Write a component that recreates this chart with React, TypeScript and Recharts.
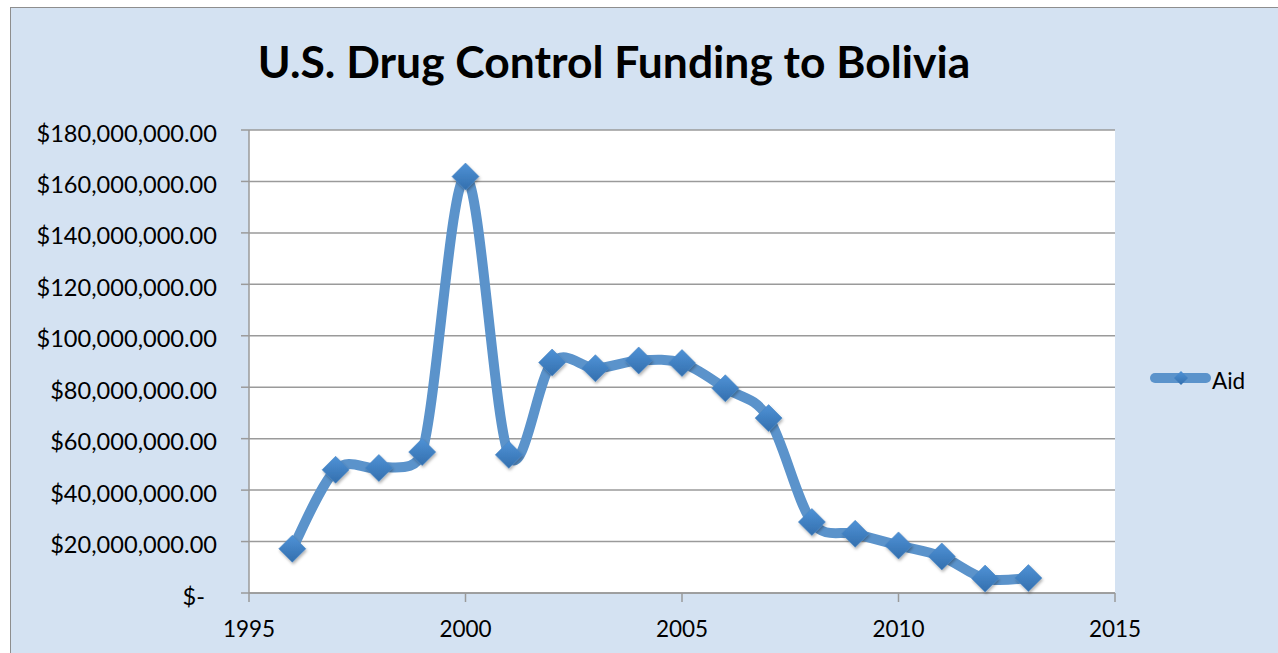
import React from 'react';
import { LineChart, Line, XAxis, YAxis, CartesianGrid, Legend } from 'recharts';

// Annual U.S. drug control funding to Bolivia (USD)
const years = [1996, 1997, 1998, 1999, 2000, 2001, 2002, 2003, 2004, 2005, 2006, 2007, 2008, 2009, 2010, 2011, 2012, 2013];
const aid = [
  17200000, 47900000, 48600000, 54800000, 161900000, 53700000, 89600000, 87400000, 90400000,
  89400000, 79600000, 68000000, 27600000, 23000000, 18500000, 14200000, 5600000, 5800000,
];
const yTicks = [0, 20000000, 40000000, 60000000, 80000000, 100000000, 120000000, 140000000, 160000000, 180000000];
const xTicks = [1995, 2000, 2005, 2010, 2015];
const seriesName = 'Aid';
const title = 'U.S. Drug Control Funding to Bolivia';

const data = years.map((year, i) => ({ year, aid: aid[i] }));

const FONT = 'Lato, "Open Sans", sans-serif';
const LINE_COLOR = '#5b93cb';
const GRID_COLOR = '#9a9a9a';

// Spreadsheet-style smoothed line: Bezier segments whose control arms are
// 1/6 of the neighbour chord, capped at half of the segment length.
const smoothCurve = (context: any) => {
  let pts: [number, number][] = [];
  const dist = (a: [number, number], b: [number, number]) => Math.hypot(a[0] - b[0], a[1] - b[1]);
  return {
    areaStart() {},
    areaEnd() {},
    lineStart() { pts = []; },
    point(x: number, y: number) { pts.push([+x, +y]); },
    lineEnd() {
      const n = pts.length;
      if (!n) return;
      context.moveTo(pts[0][0], pts[0][1]);
      for (let i = 0; i < n - 1; i++) {
        const p0 = pts[Math.max(i - 1, 0)];
        const p1 = pts[i];
        const p2 = pts[i + 1];
        const p3 = pts[Math.min(i + 2, n - 1)];
        const d12 = dist(p1, p2);
        const d02 = dist(p0, p2);
        const d13 = dist(p1, p3);
        let f1 = 1 / 6;
        let f2 = 1 / 6;
        if (d02 > 0 && d02 / 6 >= d12 / 2) f1 = d12 / d02 / 2;
        if (d13 > 0 && d13 / 6 >= d12 / 2) f2 = d12 / d13 / 2;
        context.bezierCurveTo(
          p1[0] + f1 * (p2[0] - p0[0]),
          p1[1] + f1 * (p2[1] - p0[1]),
          p2[0] - f2 * (p3[0] - p1[0]),
          p2[1] - f2 * (p3[1] - p1[1]),
          p2[0],
          p2[1],
        );
      }
    },
  };
};

const formatMoney = (v: number) =>
  v === 0 ? '$-' : '$' + v.toLocaleString('en-US', { minimumFractionDigits: 2, maximumFractionDigits: 2 });

const YTick = (props: any) => {
  const { x, y, payload } = props;
  const v = payload.value as number;
  return (
    <text x={v === 0 ? x - 12 : x} y={y + 11.5} textAnchor="end" fontFamily={FONT} fontSize={23.6} fill="#000">
      {formatMoney(v)}
    </text>
  );
};

const XTick = (props: any) => {
  const { x, y, payload } = props;
  return (
    <text x={x} y={y + 35} textAnchor="middle" fontFamily={FONT} fontSize={22.5} fill="#000">
      {payload.value}
    </text>
  );
};

const Diamond = (props: any) => {
  const { cx, cy, index } = props;
  if (cx == null || cy == null) return null;
  const r = 13.5;
  return (
    <polygon
      key={`mark-${index}`}
      points={`${cx},${cy - r} ${cx + r},${cy} ${cx},${cy + r} ${cx - r},${cy}`}
      fill="url(#diamondFill)"
      stroke="#4a86c4"
      strokeWidth={0.6}
      filter="url(#markShadow)"
    />
  );
};

const LegendContent = () => (
  <svg width={120} height={32} style={{ overflow: 'visible' }}>
    <line x1={9} y1={15} x2={60} y2={15} stroke={LINE_COLOR} strokeWidth={10} strokeLinecap="round" />
    <polygon points="35,8 42,15 35,22 28,15" fill="url(#diamondFill)" />
    <text x={66} y={26} fontFamily={FONT} fontSize={22.5} fill="#000">{seriesName}</text>
  </svg>
);

export default function App() {
  return (
    <div
      style={{
        position: 'absolute',
        left: 10,
        top: 7,
        width: 1268,
        height: 646,
        boxSizing: 'border-box',
        borderLeft: '1px solid #8e8e8e',
        borderTop: '1px solid #8e8e8e',
        background: '#d4e2f2',
        overflow: 'hidden',
      }}
    >
      <svg width={1267} height={110} style={{ position: 'absolute', left: 0, top: 0 }}>
        <text x={603} y={70} textAnchor="middle" fontFamily={FONT} fontWeight={700} fontSize={44.4} fill="#000">
          {title}
        </text>
      </svg>
      <LineChart width={1267} height={645} data={data} margin={{ top: 122, right: 163, bottom: 0, left: 0 }}>
        <defs>
          <linearGradient id="diamondFill" x1="0" y1="0" x2="0" y2="1">
            <stop offset="0%" stopColor="#4f92d6" />
            <stop offset="100%" stopColor="#336fae" />
          </linearGradient>
          <filter id="markShadow" x="-50%" y="-50%" width="200%" height="200%">
            <feDropShadow dx="1" dy="2" stdDeviation="1.5" floodColor="#000" floodOpacity="0.3" />
          </filter>
        </defs>
        <CartesianGrid vertical={false} stroke={GRID_COLOR} strokeWidth={1.5} fill="#ffffff" />
        <XAxis
          dataKey="year"
          type="number"
          domain={[1995, 2015]}
          ticks={xTicks}
          height={60}
          tickSize={9}
          tickMargin={0}
          axisLine={{ stroke: GRID_COLOR, strokeWidth: 1.5 }}
          tickLine={{ stroke: GRID_COLOR, strokeWidth: 1.5 }}
          tick={<XTick />}
          interval={0}
        />
        <YAxis
          type="number"
          domain={[0, 180000000]}
          ticks={yTicks}
          width={238}
          tickSize={8}
          tickMargin={24}
          axisLine={{ stroke: GRID_COLOR, strokeWidth: 1.5 }}
          tickLine={{ stroke: GRID_COLOR, strokeWidth: 1.5 }}
          tick={<YTick />}
          interval={0}
        />
        <Legend
          layout="horizontal"
          verticalAlign="middle"
          align="center"
          content={<LegendContent />}
          wrapperStyle={{ position: 'absolute', left: 1135, top: 355, width: 120, height: 32 }}
        />
        <Line
          name={seriesName}
          dataKey="aid"
          type={smoothCurve as any}
          stroke={LINE_COLOR}
          strokeWidth={10}
          dot={Diamond}
          activeDot={false}
          isAnimationActive={false}
        />
      </LineChart>
    </div>
  );
}
